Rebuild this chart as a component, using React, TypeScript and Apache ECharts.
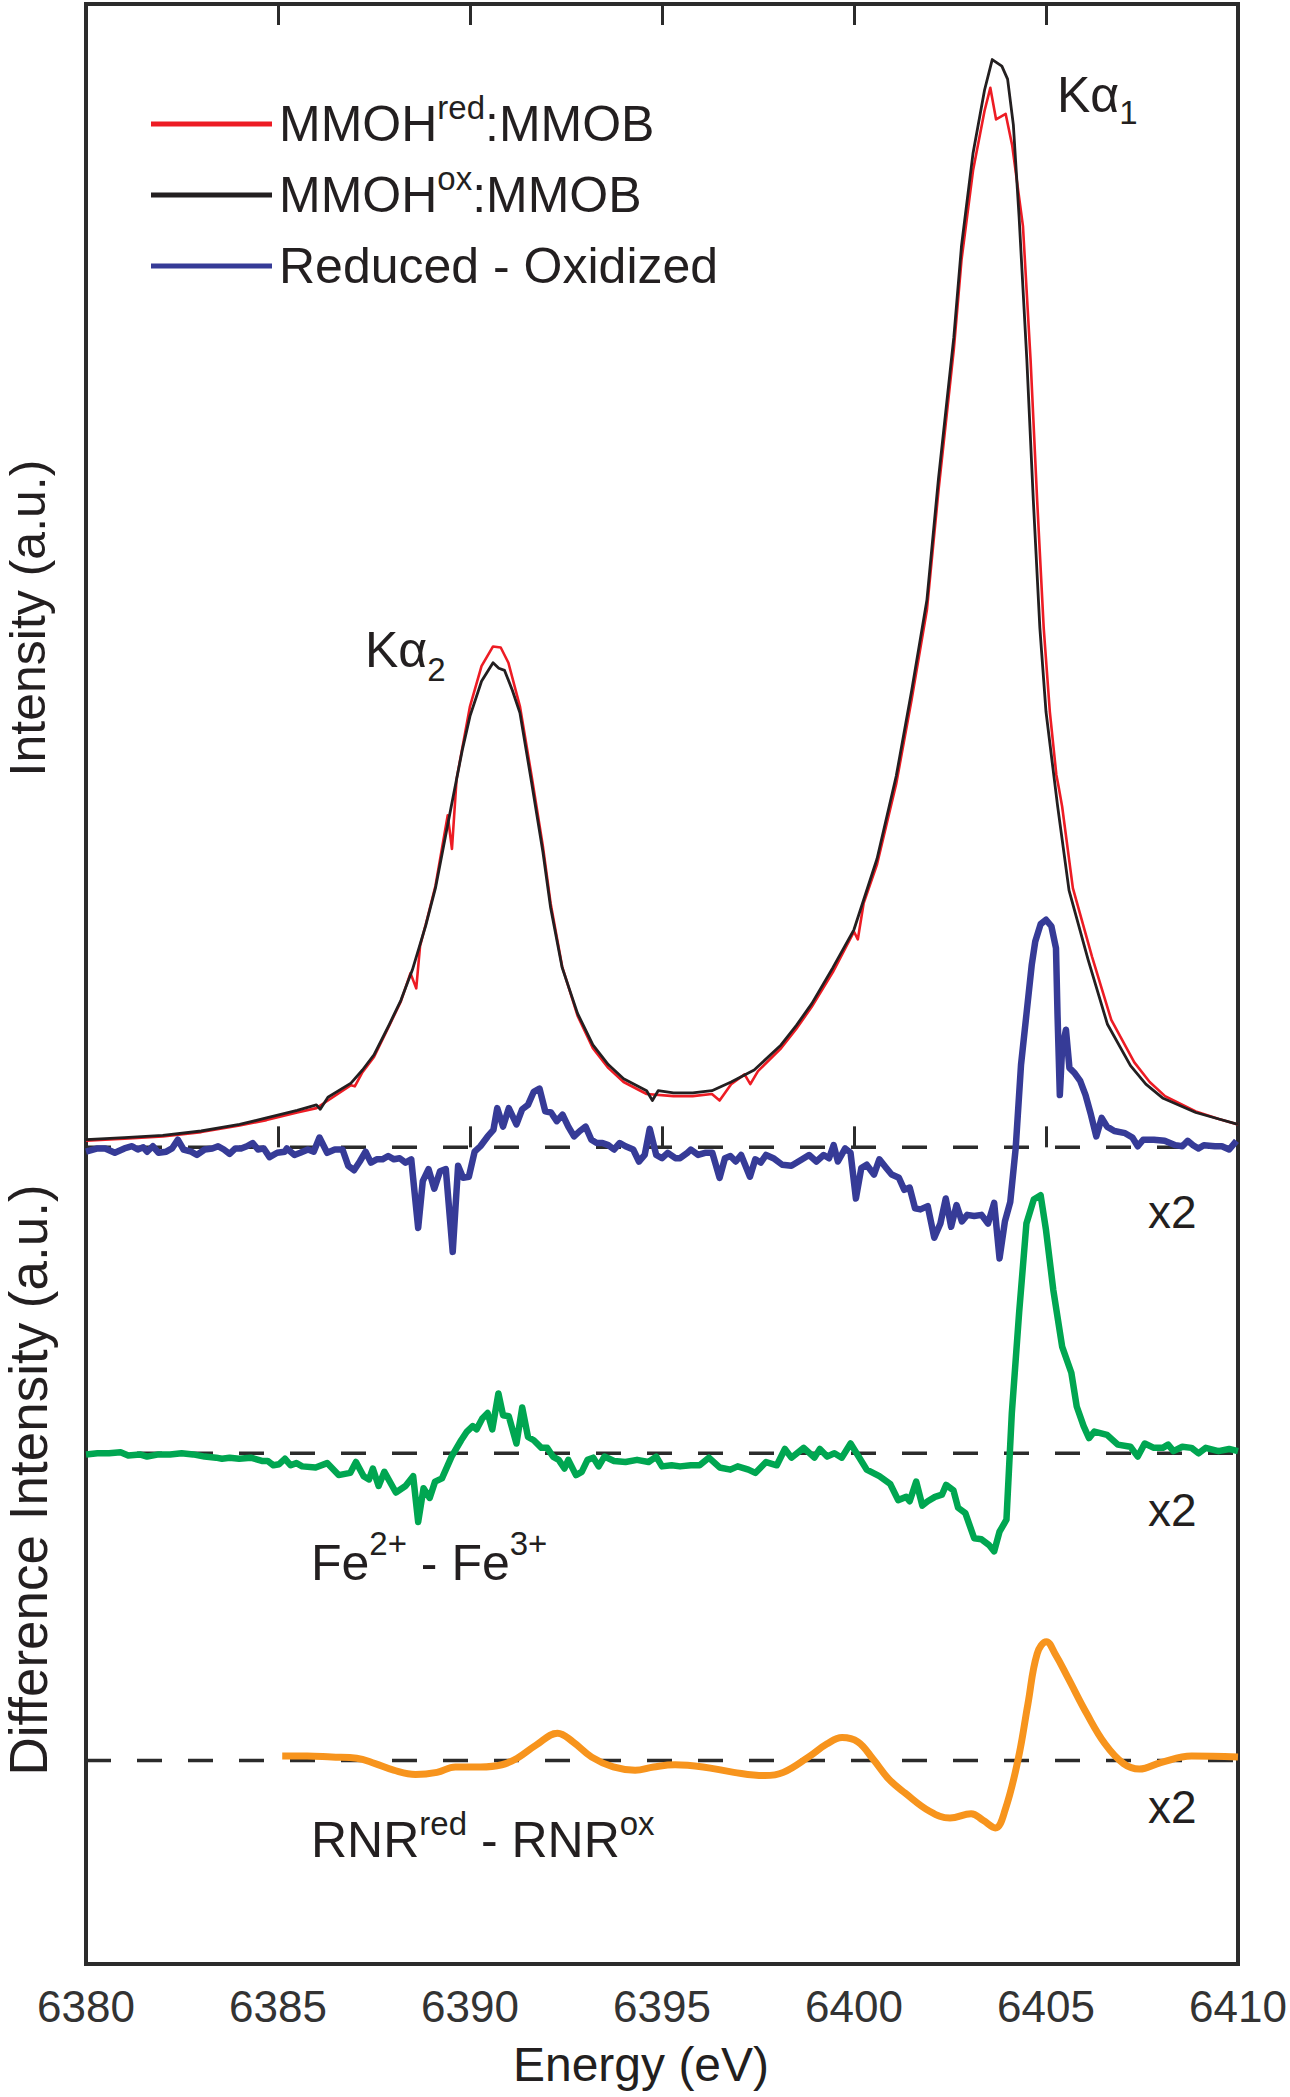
import React, { useEffect, useRef } from 'react';
import * as echarts from 'echarts';

// ---------- data (energy in eV, normalized intensity) ----------
const oxSpectrum: [number, number][] = [
  [6380.0, 0.007], [6381.0, 0.009], [6382.0, 0.011], [6383.0, 0.015], [6384.0, 0.021], [6384.7, 0.027],
  [6385.5, 0.034], [6386.0, 0.039], [6386.1, 0.035], [6386.3, 0.046], [6386.9, 0.059], [6387.2, 0.071],
  [6387.5, 0.085], [6387.9, 0.113], [6388.2, 0.135], [6388.5, 0.163], [6388.85, 0.204], [6389.1, 0.238],
  [6389.5, 0.311], [6389.8, 0.365], [6390.0, 0.396], [6390.3, 0.428], [6390.6, 0.445], [6390.75, 0.440],
  [6390.9, 0.438], [6391.1, 0.420], [6391.3, 0.399], [6391.6, 0.336], [6391.9, 0.271], [6392.1, 0.220],
  [6392.4, 0.165], [6392.8, 0.123], [6393.2, 0.094], [6393.6, 0.076], [6394.0, 0.063], [6394.6, 0.052],
  [6394.75, 0.043], [6394.9, 0.052], [6395.3, 0.050], [6395.8, 0.050], [6396.3, 0.052], [6396.8, 0.060],
  [6397.4, 0.071], [6398.1, 0.094], [6398.5, 0.112], [6398.9, 0.132], [6399.45, 0.165], [6400.0, 0.200],
  [6400.6, 0.265], [6401.1, 0.341], [6401.5, 0.419], [6401.9, 0.503], [6402.2, 0.614], [6402.6, 0.744],
  [6402.8, 0.828], [6403.1, 0.913], [6403.4, 0.971], [6403.6, 0.999], [6403.85, 0.993], [6404.0, 0.981],
  [6404.15, 0.939], [6404.3, 0.854], [6404.5, 0.724], [6404.67, 0.594], [6404.84, 0.477], [6405.0, 0.400],
  [6405.3, 0.314], [6405.6, 0.236], [6406.1, 0.172], [6406.6, 0.113], [6407.2, 0.075], [6407.6, 0.058],
  [6408.05, 0.045], [6408.9, 0.032], [6409.5, 0.026], [6410.0, 0.021],
];

const redSpectrum: [number, number][] = [
  [6380.0, 0.006], [6381.0, 0.008], [6382.0, 0.010], [6383.0, 0.014], [6384.0, 0.020], [6384.7, 0.025],
  [6385.5, 0.032], [6386.0, 0.036], [6386.3, 0.043], [6386.9, 0.057], [6387.0, 0.056], [6387.2, 0.069],
  [6387.5, 0.083], [6387.9, 0.112], [6388.2, 0.134], [6388.45, 0.160], [6388.6, 0.146], [6388.7, 0.185],
  [6388.85, 0.205], [6389.1, 0.240], [6389.42, 0.305], [6389.53, 0.274], [6389.65, 0.338], [6390.0, 0.405],
  [6390.3, 0.442], [6390.6, 0.460], [6390.8, 0.459], [6391.0, 0.445], [6391.3, 0.405], [6391.6, 0.342],
  [6391.9, 0.276], [6392.1, 0.224], [6392.4, 0.166], [6392.8, 0.121], [6393.2, 0.091], [6393.6, 0.073],
  [6394.0, 0.060], [6394.6, 0.049], [6395.3, 0.047], [6395.8, 0.047], [6396.3, 0.049], [6396.5, 0.043],
  [6396.8, 0.058], [6397.15, 0.067], [6397.3, 0.058], [6397.5, 0.070], [6398.1, 0.091], [6398.5, 0.109],
  [6398.9, 0.129], [6399.45, 0.161], [6400.0, 0.198], [6400.1, 0.191], [6400.25, 0.224], [6400.6, 0.260],
  [6401.1, 0.334], [6401.5, 0.411], [6401.9, 0.494], [6402.2, 0.603], [6402.6, 0.733], [6402.8, 0.815],
  [6403.1, 0.897], [6403.4, 0.952], [6403.55, 0.973], [6403.7, 0.944], [6403.95, 0.949], [6404.12, 0.920],
  [6404.4, 0.846], [6404.6, 0.722], [6404.77, 0.594], [6404.94, 0.477], [6405.1, 0.400], [6405.27, 0.342],
  [6405.33, 0.331], [6405.42, 0.313], [6405.7, 0.238], [6406.2, 0.175], [6406.7, 0.117], [6407.3, 0.078],
  [6407.7, 0.060], [6408.1, 0.047], [6408.9, 0.033], [6409.5, 0.026], [6410.0, 0.021],
];

// Reduced - Oxidized (x2)
const diffMMOH: [number, number][] = [
  [6380.00, -0.004], [6380.30, -0.001], [6380.50, -0.001], [6380.75, -0.005], [6381.00, -0.001], [6381.20, 0.001],
  [6381.35, -0.002], [6381.49, 0.000], [6381.59, -0.004], [6381.74, 0.001], [6381.89, -0.005], [6382.09, -0.004],
  [6382.24, -0.001], [6382.39, 0.007], [6382.54, -0.002], [6382.74, -0.004], [6382.89, -0.007], [6383.09, -0.002],
  [6383.29, -0.001], [6383.44, 0.001], [6383.59, -0.002], [6383.74, -0.006], [6383.89, -0.001], [6384.04, -0.001],
  [6384.19, 0.001], [6384.34, 0.004], [6384.48, -0.002], [6384.63, -0.001], [6384.78, -0.009], [6384.98, -0.005],
  [6385.18, -0.004], [6385.23, -0.001], [6385.43, -0.007], [6385.58, -0.005], [6385.78, -0.002], [6385.93, -0.004],
  [6386.08, 0.009], [6386.28, -0.005], [6386.48, -0.002], [6386.68, -0.002], [6386.83, -0.017], [6386.98, -0.021],
  [6387.13, -0.013], [6387.28, -0.004], [6387.42, -0.014], [6387.57, -0.011], [6387.72, -0.011], [6387.87, -0.008],
  [6388.02, -0.011], [6388.17, -0.010], [6388.32, -0.014], [6388.47, -0.011], [6388.65, -0.074], [6388.77, -0.031],
  [6388.92, -0.020], [6389.07, -0.038], [6389.22, -0.022], [6389.37, -0.020], [6389.55, -0.096], [6389.69, -0.017],
  [6389.82, -0.028], [6389.97, -0.027], [6390.12, -0.004], [6390.27, 0.001], [6390.46, 0.010], [6390.61, 0.016],
  [6390.71, 0.036], [6390.86, 0.019], [6391.01, 0.036], [6391.21, 0.021], [6391.36, 0.035], [6391.51, 0.039],
  [6391.66, 0.051], [6391.81, 0.054], [6391.96, 0.033], [6392.11, 0.032], [6392.26, 0.024], [6392.41, 0.030],
  [6392.56, 0.019], [6392.71, 0.010], [6392.86, 0.015], [6393.01, 0.019], [6393.16, 0.007], [6393.30, 0.004],
  [6393.45, 0.004], [6393.60, 0.002], [6393.75, -0.002], [6393.90, 0.004], [6394.05, 0.001], [6394.25, -0.002],
  [6394.40, -0.013], [6394.55, -0.007], [6394.68, 0.017], [6394.85, -0.007], [6395.00, -0.010], [6395.15, -0.005],
  [6395.35, -0.010], [6395.47, -0.010], [6395.66, -0.005], [6395.75, -0.002], [6395.94, -0.007], [6396.12, -0.005],
  [6396.31, -0.005], [6396.50, -0.028], [6396.64, -0.010], [6396.78, -0.008], [6396.92, -0.013], [6397.06, -0.007],
  [6397.29, -0.027], [6397.43, -0.011], [6397.57, -0.014], [6397.71, -0.007], [6397.90, -0.010], [6398.13, -0.016],
  [6398.37, -0.017], [6398.65, -0.011], [6398.83, -0.007], [6399.02, -0.013], [6399.21, -0.007], [6399.35, -0.010],
  [6399.47, 0.002], [6399.58, -0.013], [6399.77, -0.001], [6399.91, -0.005], [6400.05, -0.047], [6400.19, -0.019],
  [6400.33, -0.016], [6400.52, -0.025], [6400.66, -0.011], [6400.84, -0.019], [6400.98, -0.025], [6401.17, -0.028],
  [6401.31, -0.039], [6401.45, -0.037], [6401.59, -0.056], [6401.73, -0.057], [6401.92, -0.054], [6402.09, -0.083],
  [6402.25, -0.070], [6402.39, -0.047], [6402.53, -0.073], [6402.67, -0.053], [6402.81, -0.068], [6402.95, -0.062],
  [6403.13, -0.063], [6403.32, -0.062], [6403.49, -0.070], [6403.65, -0.051], [6403.79, -0.102], [6403.93, -0.068],
  [6404.07, -0.050], [6404.21, -0.001], [6404.35, 0.076], [6404.49, 0.122], [6404.63, 0.168], [6404.72, 0.189],
  [6404.86, 0.205], [6405.00, 0.209], [6405.14, 0.203], [6405.26, 0.183], [6405.30, 0.122], [6405.36, 0.048],
  [6405.42, 0.091], [6405.52, 0.108], [6405.61, 0.073], [6405.75, 0.068], [6405.89, 0.061], [6406.03, 0.048],
  [6406.17, 0.030], [6406.31, 0.010], [6406.45, 0.027], [6406.59, 0.019], [6406.78, 0.015], [6407.06, 0.013],
  [6407.25, 0.009], [6407.39, 0.001], [6407.53, 0.007], [6407.81, 0.007], [6408.09, 0.006], [6408.37, 0.002],
  [6408.55, 0.001], [6408.69, 0.006], [6408.83, 0.002], [6408.97, -0.001], [6409.11, 0.002], [6409.40, 0.001],
  [6409.58, 0.001], [6409.77, -0.002], [6409.96, 0.006],
];

// Fe2+ - Fe3+ (x2)
const diffFe: [number, number][] = [
  [6380.00, -0.001], [6380.30, 0.000], [6380.60, 0.000], [6380.90, 0.001], [6381.10, -0.002], [6381.40, -0.001],
  [6381.59, -0.003], [6381.89, -0.001], [6382.19, -0.001], [6382.49, 0.000], [6382.79, -0.001], [6383.09, -0.003],
  [6383.39, -0.004], [6383.54, -0.005], [6383.74, -0.004], [6383.99, -0.005], [6384.29, -0.004], [6384.58, -0.007],
  [6384.73, -0.007], [6384.88, -0.011], [6385.03, -0.010], [6385.18, -0.005], [6385.33, -0.011], [6385.48, -0.009],
  [6385.63, -0.012], [6385.98, -0.013], [6386.28, -0.009], [6386.58, -0.020], [6386.88, -0.018], [6387.03, -0.008],
  [6387.23, -0.021], [6387.37, -0.024], [6387.47, -0.014], [6387.62, -0.030], [6387.77, -0.017], [6388.07, -0.036],
  [6388.32, -0.030], [6388.52, -0.021], [6388.65, -0.063], [6388.79, -0.032], [6388.95, -0.041], [6389.09, -0.026],
  [6389.27, -0.023], [6389.52, -0.003], [6389.77, 0.012], [6389.92, 0.020], [6390.07, 0.025], [6390.17, 0.022],
  [6390.32, 0.032], [6390.46, 0.037], [6390.58, 0.022], [6390.74, 0.055], [6390.86, 0.035], [6391.01, 0.034],
  [6391.21, 0.009], [6391.36, 0.042], [6391.51, 0.015], [6391.66, 0.012], [6391.86, 0.005], [6392.01, 0.005],
  [6392.16, -0.003], [6392.31, -0.006], [6392.46, -0.014], [6392.56, -0.006], [6392.76, -0.020], [6392.91, -0.017],
  [6393.06, -0.006], [6393.21, -0.004], [6393.35, -0.012], [6393.50, -0.003], [6393.75, -0.007], [6394.05, -0.008],
  [6394.35, -0.006], [6394.65, -0.008], [6394.85, -0.003], [6395.00, -0.012], [6395.25, -0.011], [6395.47, -0.012],
  [6395.75, -0.011], [6395.98, -0.011], [6396.22, -0.004], [6396.50, -0.013], [6396.78, -0.015], [6396.97, -0.012],
  [6397.25, -0.015], [6397.43, -0.018], [6397.71, -0.008], [6397.99, -0.011], [6398.20, 0.004], [6398.37, -0.004],
  [6398.69, 0.005], [6398.97, -0.004], [6399.11, 0.004], [6399.30, -0.003], [6399.49, 0.000], [6399.68, -0.004],
  [6399.91, 0.009], [6400.14, -0.004], [6400.33, -0.015], [6400.66, -0.021], [6400.94, -0.028], [6401.15, -0.043],
  [6401.36, -0.040], [6401.45, -0.044], [6401.62, -0.026], [6401.78, -0.048], [6401.92, -0.044], [6402.11, -0.040],
  [6402.29, -0.038], [6402.40, -0.029], [6402.59, -0.034], [6402.71, -0.050], [6402.90, -0.055], [6403.13, -0.078],
  [6403.32, -0.079], [6403.51, -0.084], [6403.65, -0.090], [6403.79, -0.072], [6403.97, -0.061], [6404.11, 0.037],
  [6404.30, 0.129], [6404.49, 0.211], [6404.68, 0.233], [6404.86, 0.237], [6405.00, 0.205], [6405.19, 0.150],
  [6405.42, 0.098], [6405.66, 0.074], [6405.80, 0.043], [6405.98, 0.025], [6406.12, 0.014], [6406.26, 0.020],
  [6406.59, 0.017], [6406.87, 0.008], [6407.20, 0.006], [6407.39, -0.003], [6407.57, 0.009], [6407.81, 0.005],
  [6408.04, 0.005], [6408.18, 0.008], [6408.32, 0.002], [6408.55, 0.006], [6408.79, 0.005], [6408.97, 0.000],
  [6409.16, 0.005], [6409.49, 0.002], [6409.77, 0.004], [6410.00, 0.002],
];

// RNRred - RNRox (x2)
const diffRNR: [number, number][] = [
  [6385.11, 0.004], [6385.76, 0.004], [6386.40, 0.003], [6387.05, 0.002], [6387.53, -0.003], [6388.01, -0.009],
  [6388.58, -0.013], [6389.14, -0.011], [6389.62, -0.006], [6390.27, -0.006], [6390.83, -0.004], [6391.23, 0.002],
  [6391.72, 0.014], [6392.28, 0.025], [6392.68, 0.017], [6393.17, 0.003], [6393.73, -0.006], [6394.30, -0.009],
  [6394.78, -0.006], [6395.34, -0.004], [6396.07, -0.006], [6396.87, -0.011], [6397.68, -0.014], [6398.16, -0.011],
  [6398.81, 0.003], [6399.29, 0.015], [6399.69, 0.021], [6400.10, 0.017], [6400.50, 0.001], [6400.90, -0.017],
  [6401.33, -0.030], [6401.98, -0.047], [6402.50, -0.053], [6403.05, -0.049], [6403.36, -0.055], [6403.68, -0.062],
  [6403.94, -0.045], [6404.28, 0.002], [6404.53, 0.052], [6404.77, 0.098], [6405.01, 0.109], [6405.25, 0.097],
  [6405.57, 0.076], [6406.06, 0.043], [6406.54, 0.015], [6407.02, -0.003], [6407.43, -0.008], [6407.99, -0.002],
  [6408.79, 0.004], [6410.00, 0.003],
];

const energyRange = [6380, 6410];
const tickStep = 5;

// vertical offsets of the stacked difference traces
const OFFSET_MMOH = 0;
const OFFSET_FE = -0.281;
const OFFSET_RNR = -0.563;

const FONT = "'Liberation Sans', Arial, Helvetica, sans-serif";
const TEXT = '#231F20';
const RED = '#ED1C24';
const BLACK = '#231F20';
const BLUE = '#363B97';
const GREEN = '#00A651';
const ORANGE = '#F7941D';
const DASH = '#2B2B2B';

const shift = (d: [number, number][], off: number) => d.map(([x, y]) => [x, +(y + off).toFixed(4)]);

const supRich = (lh: number) => ({
  m: { fontSize: 50, lineHeight: lh, fontFamily: FONT, fill: TEXT },
  s: { fontSize: 33, lineHeight: 33, fontFamily: FONT, fill: TEXT, verticalAlign: 'top' },
  b: { fontSize: 33, lineHeight: 33, fontFamily: FONT, fill: TEXT, verticalAlign: 'bottom' },
});

const richText = (x: number, y: number, text: string, lh: number) => ({
  type: 'text',
  x,
  y,
  silent: true,
  style: { text, rich: supRich(lh), align: 'left', verticalAlign: 'middle', fill: TEXT, fontFamily: FONT },
});

const plainText = (x: number, y: number, text: string, size: number, extra: any = {}) => ({
  type: 'text',
  x,
  y,
  silent: true,
  ...extra,
  style: {
    text,
    fontSize: size,
    fontFamily: FONT,
    fill: TEXT,
    align: extra.align || 'left',
    verticalAlign: 'middle',
  },
});

export default function App() {
  const ref = useRef<HTMLDivElement>(null);

  useEffect(() => {
    if (!ref.current) return;
    const chart = echarts.init(ref.current, null, { renderer: 'svg' });

    const dashSeries = (off: number) => ({
      type: 'line',
      data: [[energyRange[0], off], [energyRange[1], off]],
      symbol: 'none',
      silent: true,
      lineStyle: { color: DASH, width: 3.5, type: [25, 26] },
      emphasis: { disabled: true },
    });

    const lineSeries = (name: string, data: any[], color: string, width: number, extra: any = {}) => ({
      name,
      type: 'line',
      data,
      symbol: 'none',
      silent: true,
      lineStyle: { color, width, join: 'round' },
      emphasis: { disabled: true },
      ...extra,
    });

    const xAxisBase = {
      type: 'value',
      min: energyRange[0],
      max: energyRange[1],
      interval: tickStep,
      axisLine: { show: false },
      axisTick: { show: true, inside: true, length: 21, lineStyle: { color: DASH, width: 3 } },
      splitLine: { show: false },
    };

    chart.setOption({
      animation: false,
      backgroundColor: '#ffffff',
      grid: {
        left: 86,
        right: 52,
        top: 4,
        bottom: 133,
        show: true,
        borderColor: '#2B2B2B',
        borderWidth: 4,
        backgroundColor: 'transparent',
      },
      xAxis: [
        {
          ...xAxisBase,
          position: 'bottom',
          axisLabel: {
            show: true,
            fontSize: 44,
            color: '#333333',
            fontFamily: FONT,
            margin: 20,
            formatter: (v: number) => String(v),
          },
        },
        {
          ...xAxisBase,
          position: 'top',
          axisLabel: { show: false },
        },
      ],
      yAxis: { type: 'value', min: -0.75, max: 1.05, show: false },
      series: [
        dashSeries(OFFSET_MMOH),
        dashSeries(OFFSET_FE),
        dashSeries(OFFSET_RNR),
        lineSeries('MMOHred:MMOB', redSpectrum, RED, 2.6),
        lineSeries('MMOHox:MMOB', oxSpectrum, BLACK, 2.8),
        lineSeries('Reduced - Oxidized', shift(diffMMOH, OFFSET_MMOH), BLUE, 6.5),
        lineSeries('Fe2+ - Fe3+', shift(diffFe, OFFSET_FE), GREEN, 6.5),
        lineSeries('RNRred - RNRox', shift(diffRNR, OFFSET_RNR), ORANGE, 7, { smooth: 0.4 }),
      ],
      graphic: [
        // legend
        { type: 'line', silent: true, shape: { x1: 151, y1: 124, x2: 272, y2: 124 }, style: { stroke: RED, lineWidth: 5 } },
        { type: 'line', silent: true, shape: { x1: 151, y1: 195, x2: 272, y2: 195 }, style: { stroke: BLACK, lineWidth: 5 } },
        { type: 'line', silent: true, shape: { x1: 151, y1: 266, x2: 272, y2: 266 }, style: { stroke: BLUE, lineWidth: 5 } },
        richText(279, 124, '{m|MMOH}{s|red}{m|:MMOB}', 67),
        richText(279, 195, '{m|MMOH}{s|ox}{m|:MMOB}', 67),
        plainText(279, 266, 'Reduced - Oxidized', 50),
        // peak labels
        richText(1057, 95, '{m|Kα}{b|1}', 68),
        richText(365, 650, '{m|Kα}{b|2}', 72),
        // scale labels
        plainText(1148, 1212, 'x2', 46),
        plainText(1148, 1510, 'x2', 46),
        plainText(1148, 1807, 'x2', 46),
        // trace labels
        richText(311, 1563, '{m|Fe}{s|2+}{m| - Fe}{s|3+}', 72),
        richText(311, 1840, '{m|RNR}{s|red}{m| - RNR}{s|ox}', 67),
        // axis titles
        plainText(28, 618, 'Intensity (a.u.)', 50, { rotation: Math.PI / 2, align: 'center' }),
        plainText(28, 1480, 'Difference Intensity (a.u.)', 53, { rotation: Math.PI / 2, align: 'center' }),
        plainText(641, 2064, 'Energy (eV)', 48, { align: 'center' }),
      ],
    });

    return () => chart.dispose();
  }, []);

  return (
    <div
      ref={ref}
      style={{ position: 'absolute', left: 0, top: 0, width: 1290, height: 2097, background: '#fff' }}
    />
  );
}
